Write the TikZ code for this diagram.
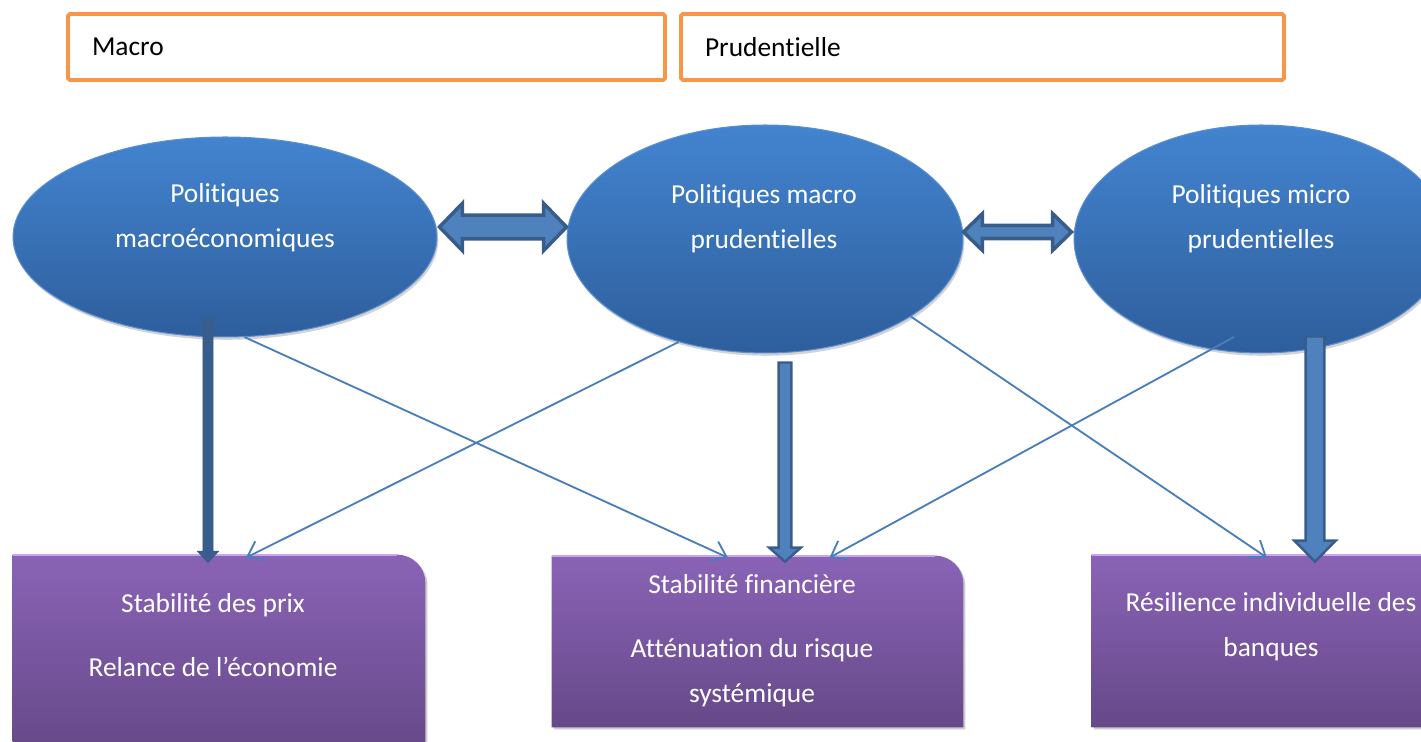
\documentclass[tikz,border=0pt]{standalone}
\usepackage{fontspec}
\setmainfont{Carlito}[Ligatures = NoCommon]
\usetikzlibrary{shapes.geometric, shadows, calc, arrows.meta}

\definecolor{cadre}{HTML}{F79646}
\definecolor{bleuhaut}{HTML}{4384D0}
\definecolor{bleubas}{HTML}{2E5E9C}
\definecolor{bleubord}{HTML}{5A8FD2}
\definecolor{violethaut}{HTML}{8A63B6}
\definecolor{violetbas}{HTML}{664989}
\definecolor{violetclair}{HTML}{C9A7F0}
\definecolor{fleche}{HTML}{4A7EBB}
\definecolor{flechefonce}{HTML}{385D8A}
\definecolor{flecheclair}{HTML}{4F81BD}

\tikzset{
	cadre/.style = {draw = cadre, line width = 2.2pt, rounded corners = 1pt, minimum height = 1.32cm, inner xsep = .48cm, text width = #1, align = left, font = \fontsize{15.6}{19}\selectfont},
	politique/.style = {ellipse, inner sep = 0pt, top color = bleuhaut, bottom color = bleubas, draw = bleubord, line width = .6pt, drop shadow = {opacity = .35, shadow xshift = .8pt, shadow yshift = -1.6pt}},
	objectif/.style = {rectangle, inner sep = 0pt},
	boite/.style = {top color = violethaut, bottom color = violetbas, drop shadow = {opacity = .4, shadow xshift = 1.2pt, shadow yshift = -1.2pt}},
	texte/.style = {text = white, align = center, font = \fontsize{15.6}{25.6}\selectfont},
	lien/.style = {-{Straight Barb[length = 8pt, width = 12pt]}, fleche, line width = 1.05pt},
	grossefleche/.style args = {#1/#2/#3}{to path = {let \p1 = (\tikztostart), \p2 = (\tikztotarget) in (\x1-#1, \y1) -- (\x1-#1, \y2+#3) -- (\x1-#2, \y2+#3) -- (\x1, \y2) -- (\x1+#2, \y2+#3) -- (\x1+#1, \y2+#3) -- (\x1+#1, \y1) -- cycle}},
	doublefleche/.style args = {#1/#2/#3}{to path = {let \p1 = (\tikztostart), \p2 = (\tikztotarget) in (\x1, \y1) -- (\x1+#3, \y1+#2) -- (\x1+#3, \y1+#1) -- (\x2-#3, \y1+#1) -- (\x2-#3, \y1+#2) -- (\x2, \y1) -- (\x2-#3, \y1-#2) -- (\x2-#3, \y1-#1) -- (\x1+#3, \y1-#1) -- (\x1+#3, \y1-#2) -- cycle}}
}

\begin{document}
\begin{tikzpicture}[x = .02cm, y = -.02cm]
	\clip (0, 0) rectangle (1421, 742);
	
	% cadres du haut
	\node [cadre = 10.98cm] (macro) at (366.5, 47) {Macro};
	\node [cadre = 11.10cm] (pru) at (982.5, 47) {Prudentielle};
	
	% politiques
	\node [politique, minimum width = 8.48cm, minimum height = 4cm] (e1) at (225, 237) {};
	\node [politique, minimum width = 7.92cm, minimum height = 4.56cm] (e2) at (765, 239) {};
	\node [politique, minimum width = 7.48cm, minimum height = 4.56cm] (e3) at (1261, 239) {};
	\node [texte] (t1) at (225, 218) {Politiques\\macroéconomiques};
	\node [texte] (t2) at (764, 219) {Politiques macro\\prudentielles};
	\node [texte] (t3) at (1261, 219) {Politiques micro\\prudentielles};
	
	% objectifs
	\node [objectif, minimum width = 8.24cm, minimum height = 3.9cm] (b1) at (219, 652.5) {};
	\node [objectif, minimum width = 8.22cm, minimum height = 3.42cm] (b2) at (757.5, 641.5) {};
	\node [objectif, minimum width = 8.2cm, minimum height = 3.44cm] (b3) at (1297, 641) {};
	\path [boite] (b1.south west) -- (b1.north west) -- ([xshift = -16pt]b1.north east) arc [start angle = 90, end angle = 0, radius = 16pt] -- (b1.south east) -- cycle;
	\path [boite] (b2.south west) -- (b2.north west) -- ([xshift = -16pt]b2.north east) arc [start angle = 90, end angle = 0, radius = 16pt] -- (b2.south east) -- cycle;
	\path [boite] (b3.south west) -- (b3.north west) -- ([xshift = -16pt]b3.north east) arc [start angle = 90, end angle = 0, radius = 16pt] -- (b3.south east) -- cycle;
	\draw [violetclair, line width = 1.2pt] (b1.north west) -- ([xshift = -16pt]b1.north east);
	\draw [violetclair, line width = 1.2pt] (b2.north west) -- ([xshift = -16pt]b2.north east);
	\draw [violetclair, line width = 1.2pt] (b3.north west) -- ([xshift = -16pt]b3.north east);
	\node [texte] (o1) at (213, 635) {Stabilité des prix\\[10.5pt]Relance de l’économie};
	\node [texte] (o2) at (752, 641) {Stabilité financière\\[10.8pt]Atténuation du risque\\systémique};
	\node [texte] (o3) at (1271, 627) {Résilience individuelle des\\banques};
	
	% fleches doubles
	\draw [doublefleche = 6.8pt/13.4pt/13pt, fill = flecheclair, draw = flechefonce, line width = 2pt] ([shift = {(2, -10)}]e1.east) to (e2.west);
	\draw [doublefleche = 3.7pt/10.5pt/10.8pt, fill = flecheclair, draw = flechefonce, line width = 2pt] ([shift = {(0, -7)}]e2.east) to ([shift = {(-2, 0)}]e3.west);
	
	% grosses fleches
	\draw [grossefleche = 2.9pt/6pt/6.5pt, fill = flechefonce, draw = flechefonce, line width = .4pt] ([shift = {(-17, -19)}]e1.south) to ([shift = {(0, 8)}]b1.north);
	\draw [grossefleche = 3.6pt/9pt/8pt, fill = flecheclair, draw = flechefonce, line width = 1.4pt] ([shift = {(20, 9)}]e2.south) to ([shift = {(0, 6)}]b2.north);
	\draw [grossefleche = 5.3pt/11.8pt/12pt, fill = flecheclair, draw = flechefonce, line width = 1.4pt] ([shift = {(54, -17)}]e3.south) to ([shift = {(0, 7)}]b3.north);
	
	% liens
	\draw [lien] (e1.-79) -- ([shift = {(-29.5, 2)}]b2.north);
	\draw [lien] (e2.-130) -- ([shift = {(27, 3)}]b1.north);
	\draw [lien] (e2.-28) -- ([shift = {(-30, 3)}]b3.north);
	\draw [lien] ([shift = {(-27, 98)}]e3.center) -- ([shift = {(72, 2)}]b2.north);
\end{tikzpicture}
\end{document}
